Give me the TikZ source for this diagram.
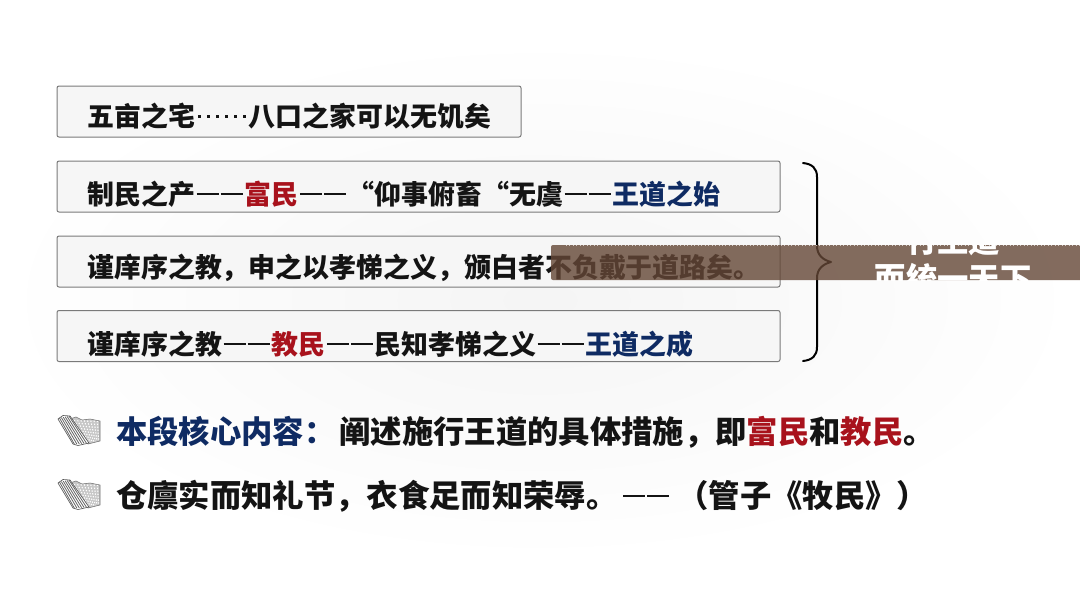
\documentclass[tikz,border=0pt]{standalone}
\usepackage{fontspec}
\setmainfont{Noto Sans CJK SC}
\usetikzlibrary{shadings}
\definecolor{dblue}{HTML}{0F2B63}
\definecolor{dred}{HTML}{A8121C}
\definecolor{boxfill}{HTML}{F6F6F6}
\definecolor{bandc}{HTML}{644736}
\tikzset{
  rowbox/.style={draw=black!52,line width=0.75pt,fill=boxfill,rounded corners=1.5pt},
  rowtext/.style={anchor=west,inner sep=0pt,font=\fontsize{20.2pt}{24pt}\selectfont\bfseries,text=black!92},
  keytext/.style={anchor=west,inner sep=0pt,font=\fontsize{23.5pt}{27pt}\selectfont\bfseries,text=black!92},
  bandtext/.style={inner sep=0pt,font=\fontsize{23.5pt}{27pt}\selectfont\bfseries,text=white},
}
\newcommand{\rb}[1]{\textcolor{dred}{#1}}
\newcommand{\bl}[1]{\textcolor{dblue}{#1}}
% double dash with a visible gap
\newcommand{\dd}{\hbox to 37pt{\hss\rule[0.33em]{16.5pt}{1.6pt}\kern1.5pt\rule[0.33em]{16.5pt}{1.6pt}\hss}}
% centred dots of the ellipsis, two ideographs wide
\newcommand{\cdotsix}{\hbox to 2em{\hss\foreach \n in {1,...,6}{\rule[0.33em]{0.11em}{0.11em}\ifnum\n<6 \kern0.22em\fi}\hss}}
\newcommand{\scrollicon}[2]{%
  \begin{scope}[shift={(#1,#2)}]
    \fill[black!22,draw=black!55,line width=0.4pt] (8,3) -- (12,5) -- (18,3) -- (24,6) -- (32,5) -- (42,7) -- (42,27) -- (30,30) -- cycle;
    \foreach \i in {0,...,8}{
      \draw[white,line width=0.8pt,dash pattern=on 1pt off 1.2pt] (13+3.3*\i,6+0.1*\i) -- (27+1.7*\i,29-0.3*\i);
    }
    \fill[white,draw=black!65,line width=0.5pt] (0,5) -- (5,1.5) -- (12,2) -- (31,29) -- (20,31.5) -- (15,30) -- cycle;
    \foreach \i in {0,...,5}{
      \draw[black!60,line width=0.6pt] (1.5+1.9*\i,4-0.4*\i) -- (16.5+2.4*\i,30.3-0.2*\i);
    }
  \end{scope}}
\begin{document}
\begin{tikzpicture}[x=0.75pt,y=-0.75pt]
\useasboundingbox (0,0) rectangle (1080,608);
\fill[white] (0,0) rectangle (1080,608);
\shade[inner color=black!4,outer color=white] (0,40) rectangle (1080,560);

\node[rowbox,minimum width=348pt,minimum height=38.25pt,anchor=north west,inner sep=0pt] (b1) at (56.5,85.5) {};
\node[rowbox,minimum width=542.25pt,minimum height=38.25pt,anchor=north west,inner sep=0pt] (b2) at (56.5,160.5) {};
\node[rowbox,minimum width=542.25pt,minimum height=38.25pt,anchor=north west,inner sep=0pt] (b3) at (56.5,235.5) {};
\node[rowbox,minimum width=542.25pt,minimum height=38.25pt,anchor=north west,inner sep=0pt] (b4) at (56.5,310) {};

\node[rowtext] (t1) at (87,116) {五亩之宅\cdotsix{}八口之家可以无饥矣};
\node[rowtext] (t2) at (87,194) {制民之产\dd{}\rb{富民}\dd{}“仰事俯畜“无虞\dd{}\bl{王道之始}};
\node[rowtext] (t3) at (87,268) {谨庠序之教，申之以孝悌之义，颁白者不负戴于道路矣。};
\node[rowtext] (t4) at (87,344) {谨庠序之教\dd{}\rb{教民}\dd{}民知孝悌之义\dd{}\bl{王道之成}};

\draw[black,line width=1.5pt,line cap=round,line join=round]
  (803,163) .. controls (812,164) and (817,168) .. (817,177)
  -- (817,246) .. controls (817,255) and (823,260) .. (831,262)
  .. controls (823,264) and (817,269) .. (817,278)
  -- (817,347) .. controls (817,356) and (812,360) .. (803,361);

\fill[bandc,opacity=0.8,rounded corners=1.5pt] (551,245) rectangle (1090,280);
\draw[white,opacity=0.65,line width=0.6pt,dotted] (566,245.5) -- (1080,245.5);
\begin{scope}
  \clip (551,245) rectangle (1080,280);
  \node[bandtext] (w1) at (953,241) {行王道};
  \node[bandtext] (w2) at (953,279) {而统一天下};
\end{scope}

\scrollicon{58}{414}
\scrollicon{58}{478}

\node[keytext] (k1) at (116,432) {\bl{本段核心内容：}\kern3pt 阐述施行王道的具体措施，即\rb{富民}和\rb{教民}。};
\node[keytext] (k2) at (116,496) {仓廪实而知礼节，衣食足而知荣辱。\kern3pt\dd{}\kern5pt（管子《牧民》）};
\end{tikzpicture}
\end{document}
